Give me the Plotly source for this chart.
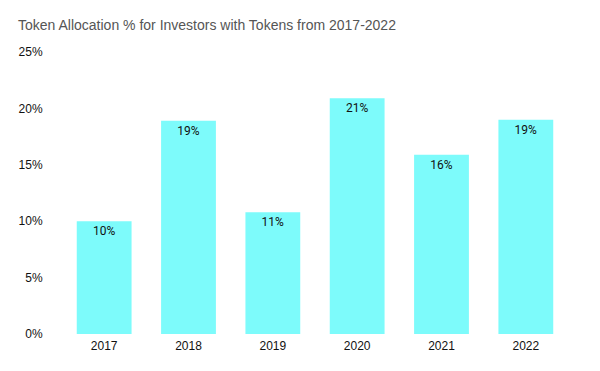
import plotly.graph_objects as go

years = ["2017", "2018", "2019", "2020", "2021", "2022"]
allocation_pct = [10.0, 18.9, 10.8, 20.9, 15.9, 19.0]
bar_labels = ["10%", "19%", "11%", "21%", "16%", "19%"]
y_tick_vals = [0, 5, 10, 15, 20, 25]
y_tick_text = ["0%", "5%", "10%", "15%", "20%", "25%"]

fig = go.Figure(
    go.Bar(
        x=years,
        y=allocation_pct,
        text=bar_labels,
        textposition="inside",
        insidetextanchor="end",
        textangle=0,
        textfont=dict(family="Roboto, sans-serif", size=12, color="#111111"),
        marker=dict(color="#7DFBFB", line=dict(width=0)),
        hoverinfo="x+y",
    )
)

fig.update_layout(
    width=600,
    height=371,
    margin=dict(l=62, r=32, t=52, b=37),
    paper_bgcolor="white",
    plot_bgcolor="white",
    bargap=0.35,
    showlegend=False,
    font=dict(family="Liberation Sans, Arial, sans-serif", size=12, color="#111111"),
    title=dict(
        text="Token Allocation % for Investors with Tokens from 2017-2022",
        x=18 / 600,
        xanchor="left",
        y=1 - 25 / 371,
        yanchor="middle",
        font=dict(family="Liberation Sans, Arial, sans-serif", size=14, color="#555555"),
    ),
)

fig.update_xaxes(
    showgrid=False,
    showline=False,
    zeroline=False,
    ticks="outside",
    ticklen=1,
    tickcolor="rgba(0,0,0,0)",
    tickfont=dict(size=12, color="#111111"),
)
fig.update_yaxes(
    range=[0, 25],
    tickvals=y_tick_vals,
    ticktext=y_tick_text,
    showgrid=False,
    showline=False,
    zeroline=False,
    ticks="outside",
    ticklen=16,
    tickcolor="rgba(0,0,0,0)",
    tickfont=dict(size=12, color="#111111"),
)

fig.write_html(
    "out.html",
    config={"displayModeBar": False},
    post_script="document.body.style.margin='0px';",
)
